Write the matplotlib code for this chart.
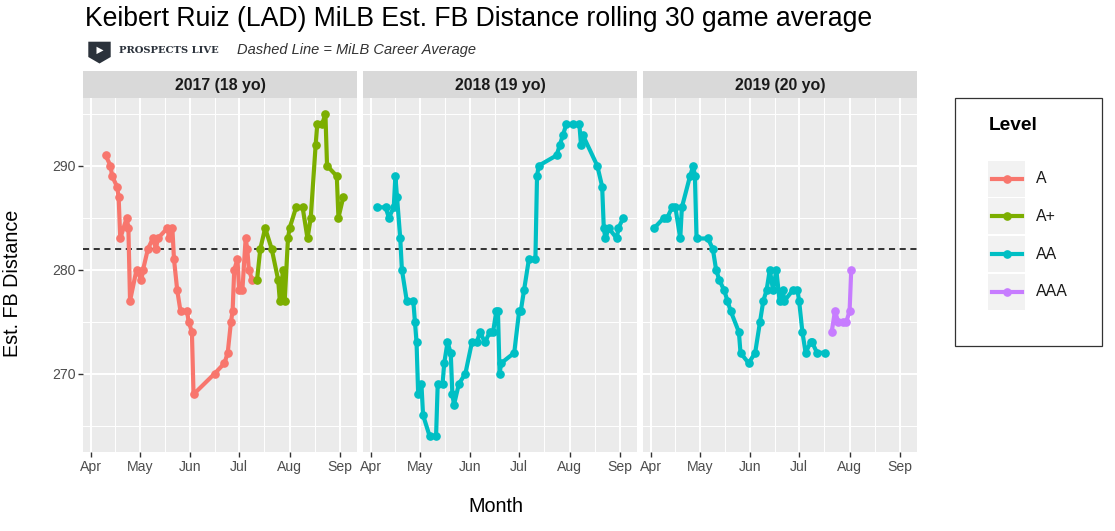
import numpy as np
import pandas as pd
import matplotlib
matplotlib.use("Agg")
import matplotlib.pyplot as plt
from matplotlib.patches import Polygon, Rectangle

plt.rcParams['font.family'] = ['Liberation Sans', 'DejaVu Sans']

# Data (month-day of each game, rolling 30 game avg est. FB distance)
a_2017_dates = ["04-10", "04-13", "04-14", "04-17", "04-18", "04-19", "04-23", "04-24", "04-25",
                "04-29", "05-02", "05-03", "05-06", "05-09", "05-11", "05-12", "05-18", "05-19",
                "05-21", "05-22", "05-24", "05-26", "05-30", "05-31", "06-02", "06-03", "06-16",
                "06-22", "06-24", "06-26", "06-27", "06-28", "06-30", "07-01", "07-03", "07-05",
                "07-06", "07-07", "07-09"]
a_2017_vals = [291, 290, 289, 288, 287, 283, 285, 284, 277,
               280, 279, 280, 282, 283, 282, 283, 284, 283,
               284, 281, 278, 276, 276, 275, 274, 268, 270,
               271, 272, 275, 276, 280, 281, 278, 278, 283,
               282, 280, 279]

aplus_2017_dates = ["07-12", "07-14", "07-17", "07-21", "07-25", "07-26", "07-28", "07-29", "07-31",
                    "08-01", "08-05", "08-09", "08-12", "08-14", "08-17", "08-18", "08-21", "08-23",
                    "08-24", "08-30", "08-31", "09-03"]
aplus_2017_vals = [279, 282, 284, 282, 279, 277, 280, 277, 283,
                   284, 286, 286, 283, 285, 292, 294, 294, 295,
                   290, 289, 285, 287]

aa_2018_dates = ["04-05", "04-10", "04-12", "04-15", "04-16", "04-17", "04-19", "04-20", "04-23",
                 "04-27", "04-28", "04-29", "04-30", "05-02", "05-03", "05-07", "05-11", "05-12",
                 "05-15", "05-16", "05-18", "05-20", "05-21", "05-22", "05-25", "05-29", "06-02",
                 "06-05", "06-07", "06-10", "06-13", "06-15", "06-17", "06-18", "06-19", "06-20",
                 "06-28", "07-01", "07-02", "07-04", "07-07", "07-11", "07-12", "07-13", "07-24",
                 "07-26", "07-28", "07-30", "08-03", "08-07", "08-08", "08-09", "08-18", "08-21",
                 "08-22", "08-23", "08-25", "08-30", "08-31", "09-03"]
aa_2018_vals = [286, 286, 285, 286, 289, 287, 283, 280, 277,
                277, 275, 273, 268, 269, 266, 264, 264, 269,
                269, 271, 273, 272, 268, 267, 269, 270, 273,
                273, 274, 273, 274, 274, 276, 276, 270, 271,
                272, 276, 276, 278, 281, 281, 289, 290, 291,
                292, 293, 294, 294, 294, 292, 293, 290, 288,
                284, 283, 284, 283, 284, 285]

aa_2019_dates = ["04-03", "04-09", "04-11", "04-14", "04-16", "04-19", "04-20", "04-25", "04-27",
                 "04-28", "04-29", "05-06", "05-09", "05-11", "05-13", "05-16", "05-18", "05-20",
                 "05-25", "05-26", "05-31", "06-04", "06-07", "06-09", "06-11", "06-13", "06-15",
                 "06-17", "06-19", "06-21", "06-22", "06-27", "06-30", "07-01", "07-03", "07-05",
                 "07-08", "07-09", "07-12", "07-17"]
aa_2019_vals = [284, 285, 285, 286, 286, 283, 286, 289, 290,
                289, 283, 283, 282, 280, 279, 278, 277, 276,
                274, 272, 271, 272, 275, 277, 278, 280, 278,
                280, 277, 278, 277, 278, 278, 277, 274, 272,
                273, 273, 272, 272]

aaa_2019_dates = ["07-21", "07-23", "07-25", "07-28", "07-30", "08-01", "08-02"]
aaa_2019_vals = [274, 276, 275, 275, 275, 276, 280]

career_avg = 282.0

seasons = ["2017 (18 yo)", "2018 (19 yo)", "2019 (20 yo)"]
levels = ["A", "A+", "AA", "AAA"]
level_colors = {"A": "#F8766D", "A+": "#7CAE00", "AA": "#00BFC4", "AAA": "#C77CFF"}

panel_series = [
    [("A", a_2017_dates, a_2017_vals), ("A+", aplus_2017_dates, aplus_2017_vals)],
    [("AA", aa_2018_dates, aa_2018_vals)],
    [("AA", aa_2019_dates, aa_2019_vals), ("AAA", aaa_2019_dates, aaa_2019_vals)],
]


def to_date(md):
    return pd.to_datetime(["2000-" + s for s in md])


W, H = 1115, 531
fig = plt.figure(figsize=(W / 100, H / 100), dpi=100)


def box(x0, y0, x1, y1):
    return [x0 / W, 1 - y1 / H, (x1 - x0) / W, (y1 - y0) / H]


month_starts = pd.to_datetime(["2000-04-01", "2000-05-01", "2000-06-01",
                               "2000-07-01", "2000-08-01", "2000-09-01"])
ms_num = matplotlib.dates.date2num(month_starts)
minor_x = (ms_num[:-1] + ms_num[1:]) / 2
x_lo = ms_num[0] - 4.7
x_hi = ms_num[0] + 163.4

tick_col = "#4D4D4D"
lefts = [83.3, 363.3, 643.3]
pw = 273.7
top, bottom = 97.7, 452.0

for i, (season, series) in enumerate(zip(seasons, panel_series)):
    x0 = lefts[i]
    ax = fig.add_axes(box(x0, top, x0 + pw, bottom))
    ax.set_facecolor("#EBEBEB")
    for s in ax.spines.values():
        s.set_visible(False)
    ax.set_xlim(x_lo, x_hi)
    ax.set_ylim(262.45, 296.55)
    ax.set_xticks(ms_num)
    ax.set_xticklabels([d.strftime("%b") for d in month_starts])
    ax.set_xticks(minor_x, minor=True)
    ax.set_yticks([270, 280, 290])
    ax.set_yticks([265, 275, 285, 295], minor=True)
    ax.grid(which="major", color="white", lw=1.4)
    ax.grid(which="minor", color="white", lw=0.7)
    ax.set_axisbelow(True)
    ax.tick_params(which="major", length=3.5, width=1.0, color="#333333",
                   labelsize=10.1, labelcolor=tick_col, pad=2)
    ax.tick_params(which="minor", length=0)
    if i > 0:
        ax.tick_params(axis="y", which="major", length=0, labelleft=False)

    ax.axhline(career_avg, color="black", lw=1.1, ls=(0, (4, 3)), zorder=2)

    for lvl, dts, vals in series:
        ax.plot(to_date(dts), vals, color=level_colors[lvl], lw=3.0,
                marker="o", ms=5.2, zorder=3, solid_capstyle="round")

    strip = fig.add_axes(box(x0, 71.0, x0 + pw, top))
    strip.set_facecolor("#D9D9D9")
    strip.set_xticks([])
    strip.set_yticks([])
    for s in strip.spines.values():
        s.set_visible(False)
    strip.text(0.5, 0.47, season, ha="center", va="center", fontsize=11.4,
               fontweight="bold", color="#1A1A1A", transform=strip.transAxes)

# overlay in pixel coordinates for titles, logo and legend
ov = fig.add_axes([0, 0, 1, 1])
ov.set_xlim(0, W)
ov.set_ylim(H, 0)
ov.axis("off")
ov.patch.set_alpha(0)

ov.text(85, 26, "Keibert Ruiz (LAD) MiLB Est. FB Distance rolling 30 game average",
        fontsize=19.2, va="baseline", ha="left", color="black")

logo_col = "#2B323B"
ov.add_patch(Polygon([(88.3, 41.7), (110.7, 41.7), (110.7, 57.0), (99.5, 63.5), (88.3, 57.0)],
                     closed=True, fc=logo_col, ec="none"))
ov.add_patch(Polygon([(96.5, 46.7), (103.5, 50.4), (96.5, 54.1)], closed=True, fc="white", ec="none"))
ov.text(119.3, 50.5, "PROSPECTS LIVE", fontsize=7.2, fontweight="bold", family="DejaVu Serif",
        color=logo_col, va="center", ha="left")
ov.text(236.7, 50.0, "Dashed Line = MiLB Career Average", fontsize=10.5, style="italic",
        color="#333333", va="center", ha="left")

ov.text(13, 283, "Est. FB Distance", rotation=90, fontsize=14.2, va="center", ha="center")
ov.text(496, 507, "Month", fontsize=14.2, va="center", ha="center")

# legend
ov.add_patch(Rectangle((954.5, 98.0), 147.5, 247.5, fc="white", ec="#333333", lw=0.9))
ov.text(988.5, 126, "Level", fontsize=13.8, fontweight="bold", va="center", ha="left")
key_top = 160.7
key_h = 37.7
for k, lvl in enumerate(levels):
    y0 = key_top + k * key_h
    ov.add_patch(Rectangle((988.3, y0), 36.7, key_h - 1.6, fc="#F2F2F2", ec="none"))
    yc = y0 + (key_h - 1.6) / 2
    ov.plot([991.7, 1021.7], [yc, yc], color=level_colors[lvl], lw=3.0)
    ov.plot([1006.7], [yc], color=level_colors[lvl], marker="o", ms=5.2)
    ov.text(1035.7, yc, lvl, fontsize=11.4, va="center", ha="left", color="#1A1A1A")

fig.savefig("out.png", dpi=100)
